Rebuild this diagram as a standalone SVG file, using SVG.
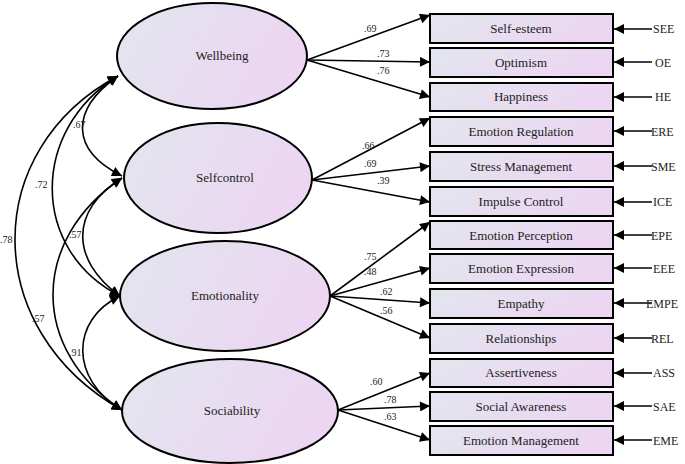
<svg xmlns="http://www.w3.org/2000/svg" width="685" height="464" viewBox="0 0 685 464">
<defs>
<linearGradient id="g" x1="0" y1="0" x2="1" y2="0.3"><stop offset="0" stop-color="#e2e6ee"/><stop offset="1" stop-color="#ecd6f2"/></linearGradient>
<marker id="b" viewBox="0 0 10 10" refX="10" refY="5" markerWidth="16" markerHeight="10" markerUnits="userSpaceOnUse" orient="auto"><path d="M0,0L10,5L0,10z" fill="#000"/></marker>
<marker id="s" viewBox="0 0 10 10" refX="0" refY="5" markerWidth="16" markerHeight="10" markerUnits="userSpaceOnUse" orient="auto"><path d="M10,0L0,5L10,10z" fill="#000"/></marker>
</defs>
<style>
text{font-family:'Liberation Serif',serif;fill:#222}
.n{font-size:13px;text-anchor:middle}
.c{font-size:10px}
.e{font-size:12px}
ellipse,rect{fill:url(#g);stroke:#000;stroke-width:2}
path.l{fill:none;stroke:#000;stroke-width:1.6}
</style>
<g id="connectors">
<path class="l" d="M307,60L430,15" marker-end="url(#b)"/>
<path class="l" d="M307,60L430,62" marker-end="url(#b)"/>
<path class="l" d="M307,60L430,97" marker-end="url(#b)"/>
<path class="l" d="M312,180L430,118" marker-end="url(#b)"/>
<path class="l" d="M312,180L430,166" marker-end="url(#b)"/>
<path class="l" d="M312,180L430,202" marker-end="url(#b)"/>
<path class="l" d="M330,296L430,222" marker-end="url(#b)"/>
<path class="l" d="M330,296L430,268" marker-end="url(#b)"/>
<path class="l" d="M330,296L430,303" marker-end="url(#b)"/>
<path class="l" d="M330,296L430,338" marker-end="url(#b)"/>
<path class="l" d="M338,410L430,373" marker-end="url(#b)"/>
<path class="l" d="M338,410L430,406" marker-end="url(#b)"/>
<path class="l" d="M338,410L430,440" marker-end="url(#b)"/>
<path class="l" d="M652,29H614" marker-end="url(#b)"/>
<path class="l" d="M652,62H614" marker-end="url(#b)"/>
<path class="l" d="M652,97H614" marker-end="url(#b)"/>
<path class="l" d="M652,131H614" marker-end="url(#b)"/>
<path class="l" d="M652,166H614" marker-end="url(#b)"/>
<path class="l" d="M652,202H614" marker-end="url(#b)"/>
<path class="l" d="M652,235H614" marker-end="url(#b)"/>
<path class="l" d="M652,268H614" marker-end="url(#b)"/>
<path class="l" d="M652,303H614" marker-end="url(#b)"/>
<path class="l" d="M652,338H614" marker-end="url(#b)"/>
<path class="l" d="M652,373H614" marker-end="url(#b)"/>
<path class="l" d="M652,406H614" marker-end="url(#b)"/>
<path class="l" d="M652,440H614" marker-end="url(#b)"/>
<path class="l" d="M118,76C70,110 70,150 122,176" marker-start="url(#s)" marker-end="url(#b)"/>
<path class="l" d="M118,76C30,130 30,250 120,296" marker-start="url(#s)" marker-end="url(#b)"/>
<path class="l" d="M118,76C-20,150 -20,330 122,410" marker-start="url(#s)" marker-end="url(#b)"/>
<path class="l" d="M122,178C70,210 70,260 120,296" marker-start="url(#s)" marker-end="url(#b)"/>
<path class="l" d="M122,178C30,240 30,350 122,410" marker-start="url(#s)" marker-end="url(#b)"/>
<path class="l" d="M120,296C70,320 70,380 122,410" marker-start="url(#s)" marker-end="url(#b)"/>
</g>
<g>
<text x="364" y="32" class="c">.69</text><text x="377" y="57" class="c">.73</text><text x="377" y="74" class="c">.76</text>
<text x="362" y="149" class="c">.66</text><text x="364" y="167" class="c">.69</text><text x="377" y="184" class="c">.39</text>
<text x="364" y="260" class="c">.75</text><text x="364" y="275" class="c">.48</text><text x="380" y="295" class="c">.62</text><text x="380" y="314" class="c">.56</text>
<text x="370" y="385" class="c">.60</text><text x="384" y="403" class="c">.78</text><text x="384" y="420" class="c">.63</text>
<text x="73" y="128" class="c">.67</text><text x="35" y="188" class="c">.72</text><text x="69" y="238" class="c">.57</text>
<text x="0" y="243" class="c">.78</text><text x="32" y="322" class="c">.57</text><text x="69" y="356" class="c">.91</text>
</g>
<g id="Wellbeing"><ellipse cx="212" cy="56" rx="95" ry="53"/><text class="n" x="222" y="60">Wellbeing</text></g>
<g id="Selfcontrol"><ellipse cx="218" cy="178" rx="94" ry="55"/><text class="n" x="225" y="182">Selfcontrol</text></g>
<g id="Emotionality"><ellipse cx="225" cy="296" rx="105" ry="55"/><text class="n" x="225" y="300">Emotionality</text></g>
<g id="Sociability"><ellipse cx="230" cy="411" rx="108" ry="52"/><text class="n" x="232" y="415">Sociability</text></g>
<g id="SE"><rect x="430" y="14" width="183" height="29"/><text class="n" x="521" y="33">Self-esteem</text><text class="e" x="653" y="33">SEE</text></g>
<g id="OP"><rect x="430" y="48" width="183" height="29"/><text class="n" x="521" y="67">Optimism</text><text class="e" x="655" y="67">OE</text></g>
<g id="HA"><rect x="430" y="83" width="183" height="28"/><text class="n" x="521" y="101">Happiness</text><text class="e" x="655" y="101">HE</text></g>
<g id="ER"><rect x="430" y="117" width="183" height="29"/><text class="n" x="521" y="136">Emotion Regulation</text><text class="e" x="651" y="136">ERE</text></g>
<g id="SM"><rect x="430" y="152" width="183" height="29"/><text class="n" x="521" y="171">Stress Management</text><text class="e" x="651" y="171">SME</text></g>
<g id="IC"><rect x="430" y="187" width="183" height="29"/><text class="n" x="521" y="206">Impulse Control</text><text class="e" x="653" y="206">ICE</text></g>
<g id="EP"><rect x="430" y="221" width="183" height="28"/><text class="n" x="521" y="240">Emotion Perception</text><text class="e" x="651" y="240">EPE</text></g>
<g id="EE"><rect x="430" y="254" width="183" height="29"/><text class="n" x="521" y="273">Emotion Expression</text><text class="e" x="653" y="273">EEE</text></g>
<g id="EM"><rect x="430" y="289" width="183" height="29"/><text class="n" x="521" y="308">Empathy</text><text class="e" x="646" y="308">EMPE</text></g>
<g id="RE"><rect x="430" y="324" width="183" height="29"/><text class="n" x="521" y="343">Relationships</text><text class="e" x="651" y="343">REL</text></g>
<g id="AS"><rect x="430" y="359" width="183" height="28"/><text class="n" x="521" y="377">Assertiveness</text><text class="e" x="653" y="377">ASS</text></g>
<g id="SA"><rect x="430" y="392" width="183" height="29"/><text class="n" x="521" y="411">Social Awareness</text><text class="e" x="653" y="411">SAE</text></g>
<g id="EMG"><rect x="430" y="426" width="183" height="29"/><text class="n" x="521" y="445">Emotion Management</text><text class="e" x="653" y="445">EME</text></g>
</svg>
